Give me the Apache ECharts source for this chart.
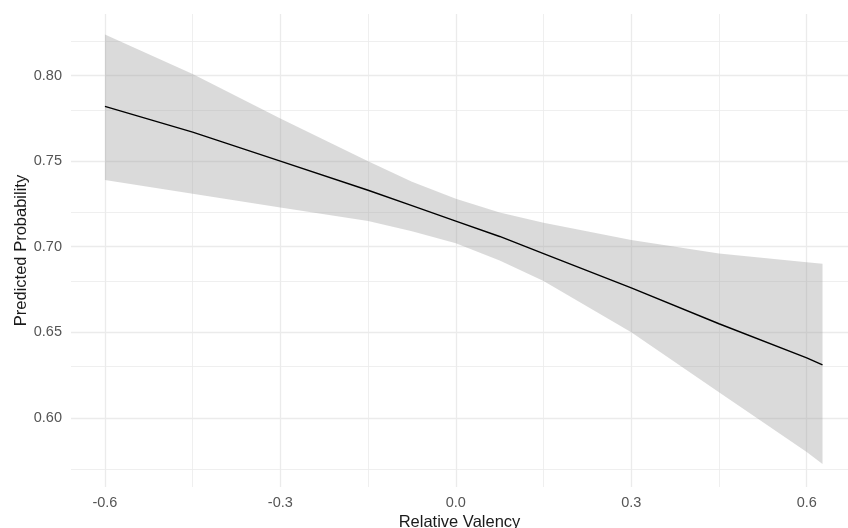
<!DOCTYPE html>
<html>
<head>
<meta charset="utf-8">
<script src="https://cdn.jsdelivr.net/npm/echarts@6/dist/echarts.min.js"></script>
<style>
html,body{margin:0;padding:0;background:#fff;}
#chart{width:848px;height:528px;}
</style>
</head>
<body>
<div id="chart"></div>
<script>
// Data
const valency   = [-0.6, -0.45, -0.3, -0.15, -0.075, 0.0, 0.075, 0.15, 0.3, 0.45, 0.6, 0.627];
const predicted = [0.782, 0.767, 0.750, 0.733, 0.724, 0.715, 0.706, 0.696, 0.676, 0.655, 0.635, 0.631];
const ciLower   = [0.739, 0.731, 0.723, 0.715, 0.709, 0.702, 0.692, 0.680, 0.650, 0.615, 0.580, 0.573];
const ciUpper   = [0.824, 0.801, 0.775, 0.750, 0.738, 0.728, 0.720, 0.714, 0.704, 0.696, 0.691, 0.690];
const xTicks = [-0.6, -0.3, 0.0, 0.3, 0.6];
const xMinor = [-0.45, -0.15, 0.15, 0.45];
const yTicks = [0.60, 0.65, 0.70, 0.75, 0.80];
const yMinor = [0.575, 0.625, 0.675, 0.725, 0.775, 0.825];

const gridColor = '#ebebeb';
const lineData  = valency.map((x, i) => [x, predicted[i]]);
const bandRows  = valency.map((x, i) => [x, ciLower[i], ciUpper[i]]);

const gridLines = []
  .concat(xTicks.map(v => ({ xAxis: v, lineStyle: { width: 1.3 } })))
  .concat(xMinor.map(v => ({ xAxis: v, lineStyle: { width: 0.8 } })))
  .concat(yTicks.map(v => ({ yAxis: v, lineStyle: { width: 1.3 } })))
  .concat(yMinor.map(v => ({ yAxis: v, lineStyle: { width: 0.8 } })));

const chart = echarts.init(document.getElementById('chart'), null, { renderer: 'canvas' });
chart.setOption({
  animation: false,
  backgroundColor: '#ffffff',
  grid: { left: 71, right: 0, top: 14, bottom: 41, containLabel: false, outerBoundsMode: 'none' },
  xAxis: {
    type: 'value',
    min: -0.658, max: 0.6706,
    name: 'Relative Valency',
    nameLocation: 'middle',
    nameGap: 26.5,
    nameMoveOverlap: false,
    nameTextStyle: { fontFamily: 'Liberation Sans', fontSize: 16.5, color: '#1a1a1a' },
    axisLine: { show: false }, axisTick: { show: false },
    splitLine: { show: false },
    axisLabel: {
      customValues: xTicks,
      formatter: v => v.toFixed(1),
      fontFamily: 'Liberation Sans', fontSize: 14.5, color: '#555', margin: 8
    }
  },
  yAxis: {
    type: 'value',
    min: 0.5596, max: 0.836,
    name: 'Predicted Probability',
    nameLocation: 'middle',
    nameGap: 41,
    nameMoveOverlap: false,
    nameTextStyle: { fontFamily: 'Liberation Sans', fontSize: 16.5, color: '#1a1a1a' },
    axisLine: { show: false }, axisTick: { show: false },
    splitLine: { show: false },
    axisLabel: {
      customValues: yTicks,
      formatter: v => v.toFixed(2),
      fontFamily: 'Liberation Sans', fontSize: 14.5, color: '#555', margin: 9
    }
  },
  series: [
    {
      type: 'scatter', name: 'grid', data: [], z: 0, silent: true,
      markLine: {
        silent: true, symbol: 'none', animation: false, z: 0,
        label: { show: false },
        lineStyle: { type: 'solid', color: gridColor },
        emphasis: { disabled: true },
        data: gridLines
      }
    },
    {
      type: 'custom', name: 'band', z: 5, silent: true,
      data: [0],
      renderItem: function (params, api) {
        const pts = [];
        for (let i = 0; i < bandRows.length; i++) pts.push(api.coord([bandRows[i][0], bandRows[i][2]]));
        for (let i = bandRows.length - 1; i >= 0; i--) pts.push(api.coord([bandRows[i][0], bandRows[i][1]]));
        return {
          type: 'polygon',
          shape: { points: pts },
          style: { fill: 'rgba(153,153,153,0.36)', stroke: 'none' }
        };
      }
    },
    {
      type: 'line', name: 'fit', data: lineData, z: 10,
      symbol: 'none', lineStyle: { color: '#000', width: 1.4 }, silent: true
    }
  ]
});
</script>
</body>
</html>
